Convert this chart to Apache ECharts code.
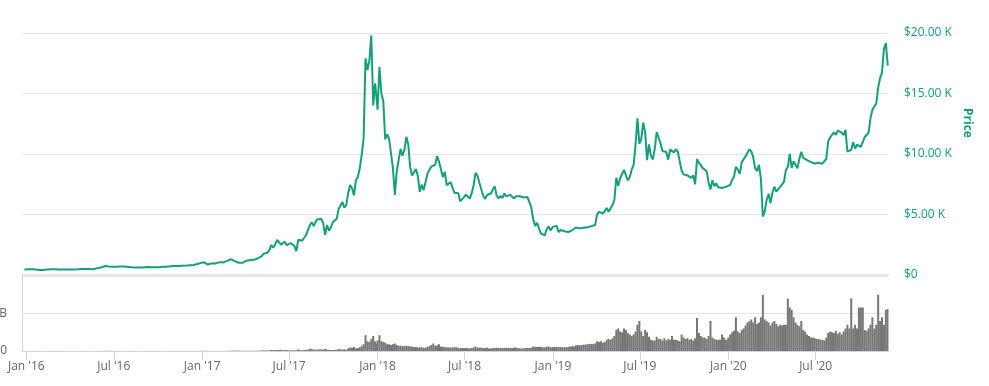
<!DOCTYPE html>
<html>
<head>
<meta charset="utf-8">
<script src="https://cdn.jsdelivr.net/npm/echarts@6/dist/echarts.min.js"></script>
<style>html,body{margin:0;padding:0;background:#fff}#c{width:989px;height:386px}</style>
</head>
<body>
<div id="c"></div>
<script>
// Sampling: each yearly array holds one value every 4 days starting Jan 1 of that year
const stepDays = 4;
const leadDate = '2015-12-28', leadPrice = 422, leadVolumeB = 0.05;

// Price (USD)
const price2016 = [434,433,449,432,387,410,392,379, 373,376,381,407,422,438,432, 435,397,412,414,417,412,416,416,
  420,422,420,424,428,447,466,448, 446,458,454,454,442,445,528, 537,574,574,700,748,667,665,637,
  658,640,648,664,672,655,655,624, 578,591,587,581,590,580,574, 572,607,622,608,606,596,601,605,
  610,617,641,638,636,657,688,700, 704,710,705,744,730,740,735, 770,758,774,780,790,864,896,961];
const price2017 = [998,1013,902,823,908,924,892,914, 1007,1025,995,1000,1063,1126,1172, 1259,1277,1112,1244,971,1045,966,1038,
  1143,1190,1208,1181,1215,1250,1346, 1422,1530,1722,1717,1807,2042,2446,2214, 2488,2865,2943,2468,2507,2721,2427,2480,
  2608,2563,2366,1929,2873,2757,2796, 2718,3253,3378,4074,4332,4001,4365,4579, 4579,4599,4229,3277,4100,3630,3892,4338,
  4225,4610,5432,5725,5993,5526,5776, 6767,7407,7143,6550,7790,8077,8790,9888, 11246,17900,16937,17706,19800,14000,15838,14157];
const price2018 = [13657,17174,14976,14361,11180,11587,11282,11296, 8830,6600,8536,9494,10400,9830,10327, 11400,10765,8866,8200,8223,8733,8134,6845,
  7456,6984,6920,8355,8246,8940,9000, 9090,9800,9325,8724,8052,8512,7400,7493, 7645,7685,6773,6644,6735,6060,6164,6404,
  6606,6767,6285,6738,7392,8424,8192, 7600,7036,6530,6254,6584,6475,6712,7047, 7302,6515,6301,6515,6335,6710,6466,6625,
  6597,6652,6290,6488,6432,6478,6419, 6377,6419,6412,6337,5578,4565,4009,4278, 3820,3395,3424,3243,3745,3979,3653,3742];
const price2019 = [3943,3836,4025,3509,3682,3536,3583,3421, 3521,3404,3661,3616,3897,3984,3820, 3822,3874,3928,3905,4012,4004,3955,4105,
  4976,5200,5046,5037,5281,5500,5196, 5350,5751,6188,8005,7355,7971,8053,8659, 8742,7795,8055,8693,9080,10700,12932,10817,
  11246,12568,11810,9477,10767,9844,9530, 10400,11800,11851,10868,10231,10131,10143,9510, 10344,10321,10117,10360,10160,10019,8587,8293,
  8149,8205,8273,8000,8223,7470,9551, 9261,9413,8808,8758,8550,7627,7047,7804, 7321,7548,7225,7068,7160,7323,7254,7193];
const price2020 = [7200,7411,7824,8105,8929,8680,8329,9285, 9344,9795,9856,10367,10187,9697,8785, 8563,9078,7909,4800,5225,6191,6681,5922,
  6793,7271,6865,6843,7257,7127,7679,8658, 8897,9986,8822,9377,9522,8790,9575, 10167,9656,9773,9473,9451,9303,9250,9190,
  9087,9252,9276,9180,9181,9581,11029,11351, 11225,11767,11569,11911,11878,11754,11540, 11970,10170,10242,10331,10944,10440,10745,10848,
  10575,10669,11384,11506,11742,12931,13654,13780, 14156,15479,16276,16716,18681,19157,17300];

// Volume (billions USD)
const vol2016 = [.05,.06,.05,.05,.06,.07,.06,.05, .05,.04,.05,.06,.07,.08,.06, .07,.08,.06,.05,.06,.05,.05,.05,
  .05,.05,.05,.05,.05,.06,.08,.07, .06,.06,.05,.05,.04,.05,.12, .10,.11,.10,.21,.29,.24,.12,.09,
  .08,.07,.07,.06,.06,.05,.06,.07, .20,.08,.06,.06,.05,.05,.05, .06,.07,.07,.07,.06,.06,.05,.06,
  .06,.06,.07,.06,.06,.07,.09,.10, .10,.12,.09,.11,.08,.08,.07, .08,.07,.07,.08,.08,.10,.12,.15];
const vol2017 = [.2,.3,.2,.15,.12,.1,.1,.1, .12,.1,.1,.1,.12,.2,.3, .35,.3,.6,.3,.5,.3,.3,.3,
  .4,.3,.3,.25,.3,.3,.4, .5,.6,.9,.8,.8,.9,1.5,1.3, 1.1,1.3,1.4,1.6,1.0,1.2,1.3,1.0,
  1.0,.8,.9,.9,2.2,1.1,1.0, 1.2,1.5,1.6,3.0,2.8,2.0,1.6,2.0, 2.0,2.2,1.8,2.9,1.8,1.5,1.2,1.3,
  1.6,1.5,2.8,2.1,2.0,2.3,1.7, 3.4,4.5,4.5,5.2,3.5,3.9,5.0,6.5, 9.0,21.0,13.0,12.0,16.0,20.0,13.0,10.0];
const vol2018 = [14,21,13,12,11,9,9,8, 9,10,8,7,7,6.5,6.5, 7,6.5,6,6,5,5.5,4.5,5,
  5,4,4.5,5.5,6.5,8,10, 7,7.5,9,6,5.5,5,5,4.8, 4.5,4.8,5,5,4,3.8,4,3.8,
  4,3.8,3.5,4,4.5,6,4.5, 4.5,4.5,4,3.8,4.5,3.5,3.5,3.8, 4,4.5,4,4,4,4,4.5,4,
  4,3.8,4.5,4.5,3.8,3.6,3.2, 3.6,4,4,4,4.3,6,5.5,5.5, 5.5,5.8,4.8,4.8,5.5,6,5,4.8];
const vol2019 = [5,5.5,5.5,5.2,5.2,5,5,5, 5.3,6,6.5,6,7.5,8,7.5, 8,8.5,8.5,9,9.5,9.5,9.5,10,
  13,12,13,11,12,15,16, 15,17,20,28,30,26,25,30, 28,24,22,20,22,26,35,40,
  26,20,28,25,19,15,14, 14,19,16,16,14,17,14,16, 15,20,15,15,14,13,22,18,
  16,17,15,16,14,17,44, 24,20,18,18,16,20,40,18, 16,15,15,15,22,18,15,14];
const vol2020 = [18,22,25,27,45,26,24,28, 30,34,38,40,42,38,45, 36,38,45,75,42,40,38,34,
  38,40,36,33,35,34,35,35, 70,58,55,45,38,35,33, 40,28,26,22,20,18,18,17,
  16,16,15,15,14,18,24,26, 25,24,27,23,25,22,26, 30,35,30,70,30,35,30,58,
  58,58,28,27,30,35,45,30, 35,75,40,45,35,55,56];

// Axis ticks
const tickDates = ['2016-01-01','2016-07-01','2017-01-01','2017-07-01','2018-01-01','2018-07-01','2019-01-01','2019-07-01','2020-01-01','2020-07-01'];
const tickLabels = ["Jan '16","Jul '16","Jan '17","Jul '17","Jan '18","Jul '18","Jan '19","Jul '19","Jan '20","Jul '20"];
const priceTicks = [0,5000,10000,15000,20000];

const DAY = 864e5;
function ts(s){ const p = s.split('-').map(Number); return Date.UTC(p[0], p[1]-1, p[2]); }
const priceData = [[ts(leadDate), leadPrice]];
const volData = [[ts(leadDate), leadVolumeB*1e9]];
[[2016, price2016, vol2016],[2017, price2017, vol2017],[2018, price2018, vol2018],[2019, price2019, vol2019],[2020, price2020, vol2020]].forEach(function(r){
  const start = Date.UTC(r[0],0,1);
  r[1].forEach(function(v,i){ priceData.push([start + i*stepDays*DAY, v]); });
  r[2].forEach(function(v,i){ volData.push([start + i*stepDays*DAY, v*1e9]); });
});
const tickTs = tickDates.map(ts);

const GREEN = '#14a07a';
const FONT = 'Open Sans';
const chart = echarts.init(document.getElementById('c'), null, {renderer:'canvas'});
const xMin = Date.UTC(2015,11,23), xMax = Date.UTC(2020,10,28,12);
chart.setOption({
  animation: false,
  backgroundColor: '#fff',
  textStyle: {fontFamily: FONT},
  grid: [
    {left: 22, right: 101, top: 33, height: 241.5, outerBoundsMode: 'none', containLabel: false},
    {left: 22, right: 101, top: 276, height: 75, outerBoundsMode: 'none', containLabel: false}
  ],
  xAxis: [
    {type:'value', gridIndex:0, min:xMin, max:xMax,
     axisLine:{show:true, onZero:false, lineStyle:{color:'#e6e6e6', width:2}},
     axisTick:{show:false}, axisLabel:{show:false}, splitLine:{show:false}},
    {type:'value', gridIndex:1, min:xMin, max:xMax,
     axisLine:{show:true, onZero:false, lineStyle:{color:'#ccd6eb', width:1}},
     axisTick:{show:true, length:9, customValues: tickTs, lineStyle:{color:'#ccd6eb'}},
     axisLabel:{show:true, customValues: tickTs, color:'#666', fontSize:12, fontFamily:FONT, margin:10,
       formatter:function(v){ const k = tickTs.indexOf(v); return k >= 0 ? tickLabels[k] : ''; }},
     splitLine:{show:false}}
  ],
  yAxis: [
    {type:'value', gridIndex:0, position:'right', min:priceTicks[0], max:priceTicks[priceTicks.length-1], interval:5000,
     axisLine:{show:false, onZero:false}, axisTick:{show:false},
     splitLine:{show:true, lineStyle:{color:'#e6e6e6', width:1}},
     axisLabel:{color:GREEN, fontSize:12, fontFamily:FONT, margin:16,
       formatter:function(v){ return v === 0 ? '$0' : '$' + (v/1000).toFixed(2) + ' K'; }}},
    {type:'value', gridIndex:1, position:'left', min:0, max:100e9, interval:50e9,
     axisLine:{show:true, onZero:false, lineStyle:{color:'#ccd6eb'}}, axisTick:{show:false},
     splitLine:{show:true, lineStyle:{color:'#e6e6e6', width:1}},
     axisLabel:{color:'#666', fontSize:12, fontFamily:FONT, margin:15, showMaxLabel:false,
       formatter:function(v){ return v === 0 ? '0' : (v/1e9) + ' B'; }}}
  ],
  graphic: [
    {type:'text', x:967, y:123, rotation:-Math.PI/2,
     style:{text:'Price', fill:GREEN, font:'bold 12px "Open Sans"', align:'center', verticalAlign:'middle'}}
  ],
  series: [
    {type:'line', xAxisIndex:0, yAxisIndex:0, data:priceData, showSymbol:false, symbol:'none',
     lineStyle:{color:GREEN, width:2}, itemStyle:{color:GREEN}},
    {type:'bar', xAxisIndex:1, yAxisIndex:1, data:volData, barWidth:2,
     itemStyle:{color:'#777'}}
  ]
});
</script>
</body>
</html>
